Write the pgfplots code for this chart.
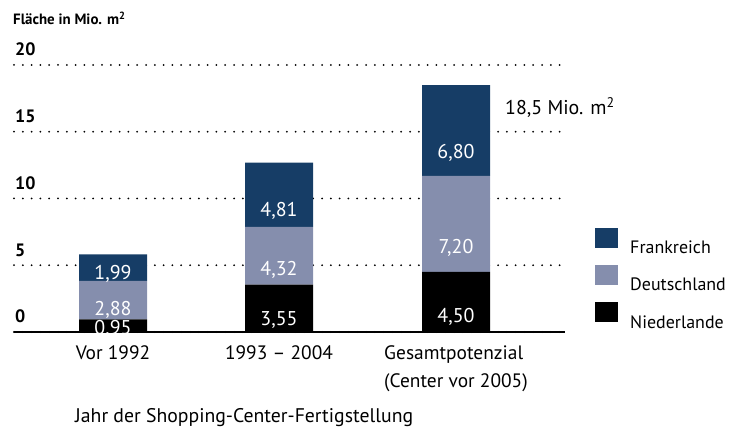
\documentclass[border=0pt]{standalone}
\usepackage{fontspec}
\setmainfont{PT Sans}
\usepackage{pgfplots}
\pgfplotsset{compat=1.18}
\usepackage{pgfplotstable}
\definecolor{fr}{HTML}{163D66}
\definecolor{de}{HTML}{858EAD}
\pgfplotstableread{
x N D F
113 0.95 2.88 1.99
279 3.55 4.32 4.81
456 4.50 7.20 6.80
}\data
\begin{document}
\begin{tikzpicture}
\path (0,0) rectangle (735bp,432bp);
\begin{axis}[
 at={(14bp,100bp)}, anchor=south west,
 scale only axis, width=551bp, height=267bp,
 xmin=14, xmax=565, ymin=0, ymax=20,
 ybar stacked, bar width=68,
 axis x line*=bottom, axis y line*=left,
 y axis line style={draw=none},
 x axis line style={line width=2bp},
 major tick length=0pt,
 xtick={113,279,456},
 xticklabels={Vor 1992, 1993 -- 2004, {\begin{tabular}[t]{@{}l@{}}Gesamtpotenzial\\(Center vor 2005)\end{tabular}}},
 ytick={0,5,10,15,20},
 yticklabels={0,5,10,15,20},
 ymajorgrids,
 major grid style={black, line width=2bp, dash pattern=on 0pt off 8.8bp, line cap=round},
 yticklabel style={anchor=base west, inner sep=0pt, xshift=1bp, yshift=9bp, font=\fontsize{18}{20}\selectfont\bfseries},
 xticklabel style={anchor=base, inner sep=0pt, yshift=-28bp, font=\fontsize{19.5}{28}\selectfont},
 legend style={at={(1.0545,0.3895)}, anchor=north west, draw=none, fill=none, inner sep=0pt, row sep=10bp, font=\fontsize{18}{20}\selectfont, nodes={inner sep=0pt}, /tikz/every odd column/.append style={column sep=12bp}},
 legend cell align=left, reverse legend,
 legend image code/.code={\fill[#1] (0bp,0bp) rectangle (23bp,20bp);},
 point meta=explicit,
 visualization depends on={rawy \as \h},
 nodes near coords={\pgfmathprintnumber[fixed,fixed zerofill,precision=2,use comma,assume math mode=true]{\pgfplotspointmeta}},
 every node near coord/.append style={anchor=center, yshift=-\h*3.3375bp, text=white, font=\fontsize{20}{22}\selectfont},
]
\addplot[fill=black, draw=none] table[x=x, y=N, meta=N] {\data};
\addlegendentry{Niederlande}
\addplot[fill=de, draw=none] table[x=x, y=D, meta=D] {\data};
\addlegendentry{Deutschland}
\addplot[fill=fr, draw=none] table[x=x, y=F, meta=F] {\data};
\addlegendentry{Frankreich}
\end{axis}
\node[anchor=base west, inner sep=0pt, font=\fontsize{15}{18}\selectfont\bfseries] at (13bp,407bp) {Fläche in Mio. m\textsuperscript{2}};
\node[anchor=base west, inner sep=0pt, font=\fontsize{20}{24}\selectfont] at (505bp,317bp) {18,5 Mio. m\textsuperscript{2}};
\node[anchor=base west, inner sep=0pt, font=\fontsize{19.8}{22}\selectfont] at (75bp,10bp) {Jahr der Shopping-Center-Fertigstellung};
\end{tikzpicture}
\end{document}
